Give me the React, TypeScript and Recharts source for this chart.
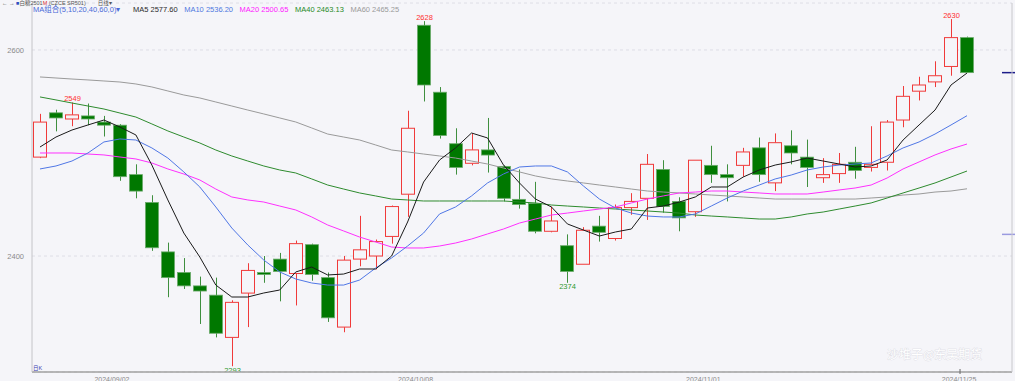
import React from "react";
import {
  ComposedChart,
  Bar,
  Line,
  XAxis,
  YAxis,
  CartesianGrid,
  ReferenceLine,
} from "recharts";

// trading days shown (daily K-line, SR501)
const dates = [
  "2024/08/27", "2024/08/28", "2024/08/29", "2024/08/30", "2024/09/02", "2024/09/03",
  "2024/09/04", "2024/09/05", "2024/09/06", "2024/09/09", "2024/09/10", "2024/09/11",
  "2024/09/12", "2024/09/13", "2024/09/18", "2024/09/19", "2024/09/20", "2024/09/23",
  "2024/09/24", "2024/09/25", "2024/09/26", "2024/09/27", "2024/09/30", "2024/10/08",
  "2024/10/09", "2024/10/10", "2024/10/11", "2024/10/14", "2024/10/15", "2024/10/16",
  "2024/10/17", "2024/10/18", "2024/10/21", "2024/10/22", "2024/10/23", "2024/10/24",
  "2024/10/25", "2024/10/28", "2024/10/29", "2024/10/30", "2024/10/31", "2024/11/01",
  "2024/11/04", "2024/11/05", "2024/11/06", "2024/11/07", "2024/11/08", "2024/11/11",
  "2024/11/12", "2024/11/13", "2024/11/14", "2024/11/15", "2024/11/18", "2024/11/19",
  "2024/11/20", "2024/11/21", "2024/11/22", "2024/11/25", "2024/11/26",
];

const opens = [
  2496, 2539, 2533, 2536, 2530, 2527, 2479, 2452, 2404, 2384, 2371, 2362, 2321, 2364, 2384,
  2397, 2383, 2411, 2379, 2331, 2397, 2400, 2419, 2460, 2624, 2559, 2509, 2490, 2503, 2487,
  2455, 2451, 2424, 2410, 2392, 2429, 2417, 2447, 2456, 2484, 2453, 2443, 2488, 2479, 2488,
  2505, 2471, 2507, 2496, 2476, 2480, 2491, 2486, 2491, 2532, 2560, 2569, 2584, 2612,
];
const highs = [
  2538, 2542, 2549, 2548, 2536, 2528, 2489, 2459, 2413, 2398, 2380, 2379, 2357, 2393, 2400,
  2403, 2415, 2412, 2384, 2400, 2439, 2416, 2449, 2541, 2628, 2564, 2524, 2519, 2534, 2488,
  2484, 2472, 2448, 2421, 2428, 2439, 2450, 2461, 2499, 2493, 2457, 2493, 2507, 2489, 2505,
  2515, 2519, 2522, 2513, 2495, 2500, 2506, 2526, 2532, 2565, 2574, 2589, 2630, 2613,
];
const lows = [
  2495, 2521, 2526, 2527, 2516, 2473, 2456, 2405, 2360, 2368, 2334, 2321, 2293, 2331, 2374,
  2356, 2352, 2376, 2336, 2326, 2390, 2387, 2412, 2438, 2550, 2514, 2479, 2488, 2481, 2453,
  2446, 2422, 2423, 2374, 2392, 2414, 2415, 2440, 2435, 2442, 2424, 2438, 2471, 2453, 2477,
  2472, 2463, 2489, 2467, 2471, 2471, 2475, 2482, 2483, 2525, 2551, 2564, 2575, 2578,
];
const closes = [
  2530, 2534, 2537, 2533, 2527, 2477, 2463, 2408, 2379, 2371, 2366, 2325, 2355, 2386, 2382,
  2385, 2412, 2382, 2340, 2396, 2406, 2414, 2448, 2524, 2566, 2517, 2486, 2503, 2498, 2456,
  2450, 2424, 2434, 2385, 2425, 2423, 2447, 2453, 2489, 2448, 2437, 2493, 2479, 2476, 2501,
  2479, 2510, 2500, 2486, 2479, 2489, 2483, 2489, 2530, 2555, 2566, 2575, 2612, 2578,
];

// moving averages
const ma5 = [
  2505.8, 2515.5, 2522.3, 2527.2, 2532.0, 2525.2, 2517.5, 2488.3, 2454.4, 2422.3, 2399.0,
  2371.8, 2360.2, 2360.2, 2364.1, 2367.0, 2384.5, 2389.3, 2381.6, 2382.5, 2387.4, 2387.4,
  2400.0, 2433.0, 2471.8, 2493.2, 2504.9, 2519.4, 2514.6, 2488.3, 2470.9, 2455.3, 2447.6,
  2431.1, 2425.2, 2419.4, 2423.3, 2426.2, 2446.6, 2448.5, 2452.4, 2457.3, 2467.0, 2467.0,
  2476.7, 2483.5, 2488.3, 2491.3, 2495.1, 2492.2, 2489.3, 2486.4, 2487.4, 2493.2, 2512.6,
  2527.2, 2541.7, 2566.0, 2577.6,
];
const ma10 = [
  2484.5, 2487.4, 2492.2, 2500.0, 2510.7, 2513.6, 2512.6, 2504.9, 2495.1, 2481.6, 2467.0,
  2447.6, 2427.2, 2410.7, 2396.1, 2384.5, 2377.7, 2373.8, 2371.8, 2371.8, 2376.7, 2388.3,
  2398.1, 2409.7, 2422.3, 2440.8, 2447.6, 2458.3, 2470.9, 2479.6, 2486.4, 2487.4, 2487.4,
  2481.6, 2468.0, 2455.3, 2446.6, 2441.7, 2438.8, 2437.9, 2437.9, 2440.8, 2448.5, 2456.3,
  2463.1, 2468.9, 2474.8, 2478.6, 2483.5, 2486.4, 2488.3, 2489.3, 2490.3, 2497.1, 2504.9,
  2510.7, 2518.4, 2527.2, 2536.2,
];
const ma20 = [
  2500.0, 2500.0, 2500.0, 2499.0, 2498.1, 2496.1, 2494.2, 2490.3, 2484.5, 2479.6, 2473.8,
  2465.0, 2457.3, 2454.4, 2452.4, 2448.5, 2444.7, 2437.9, 2430.1, 2424.3, 2418.4, 2413.6,
  2408.7, 2407.8, 2407.8, 2409.7, 2412.6, 2416.5, 2421.4, 2426.2, 2432.0, 2435.9, 2439.8,
  2441.7, 2443.7, 2445.6, 2447.6, 2451.5, 2455.3, 2458.3, 2461.2, 2462.1, 2463.1, 2463.1,
  2462.1, 2461.2, 2460.2, 2460.2, 2460.2, 2462.1, 2464.1, 2466.0, 2468.9, 2475.7, 2484.5,
  2491.3, 2498.1, 2503.9, 2508.7,
];
const ma40 = [
  2554.4, 2551.5, 2548.5, 2545.6, 2542.7, 2538.8, 2534.9, 2528.2, 2521.4, 2515.5, 2509.7,
  2502.9, 2497.1, 2492.2, 2487.4, 2483.5, 2480.6, 2474.8, 2468.9, 2465.0, 2461.2, 2458.3,
  2455.3, 2454.4, 2453.4, 2453.4, 2453.4, 2453.4, 2453.4, 2453.4, 2452.4, 2451.5, 2449.5,
  2448.5, 2447.6, 2446.6, 2445.6, 2444.7, 2443.7, 2442.7, 2441.7, 2439.8, 2438.8, 2437.9,
  2436.9, 2435.9, 2435.9, 2437.9, 2440.8, 2442.7, 2445.6, 2448.5, 2451.5, 2456.3, 2461.2,
  2466.0, 2470.9, 2476.7, 2482.5,
];
const ma60 = [
  2573.8, 2572.8, 2571.8, 2570.9, 2569.9, 2568.9, 2567.0, 2564.1, 2560.2, 2556.3, 2553.4,
  2549.5, 2545.6, 2541.7, 2537.9, 2534.0, 2530.1, 2524.3, 2518.4, 2515.5, 2512.6, 2507.8,
  2502.9, 2501.0, 2499.0, 2497.1, 2495.1, 2492.2, 2489.3, 2485.4, 2481.6, 2477.7, 2474.8,
  2472.8, 2470.9, 2468.9, 2467.0, 2465.0, 2463.1, 2462.1, 2461.2, 2460.2, 2459.2, 2458.3,
  2457.3, 2456.3, 2455.3, 2455.3, 2455.3, 2455.3, 2455.3, 2455.3, 2456.3, 2457.3, 2459.2,
  2460.2, 2462.1, 2463.1, 2465.25,
];

const yTicks = [2400, 2600];
const dateTicks = ["2024/09/02", "2024/10/08", "2024/11/01", "2024/11/25"];
const highMarks = [2, 24, 57];
const lowMarks = [12, 33];

const maLegend = [
  { name: "MA5", value: "2577.60", color: "#2a2a2a" },
  { name: "MA10", value: "2536.20", color: "#4f78e0" },
  { name: "MA20", value: "2500.65", color: "#ff20ff" },
  { name: "MA40", value: "2463.13", color: "#1f8a1f" },
  { name: "MA60", value: "2465.25", color: "#9a9a9a" },
];

const sideMarks = [
  { value: closes[closes.length - 1], color: "#1c1c8a" },
  { value: 2421, color: "#9a9ae0" },
];

const BG = "#f5f5f9";
const UP = "#f03a3a";
const DOWN = "#007800";
const FONT = "'Liberation Sans', 'Noto Sans CJK SC', sans-serif";

const rows = dates.map((date, i) => ({
  date,
  open: opens[i],
  high: highs[i],
  low: lows[i],
  close: closes[i],
  range: [lows[i], highs[i]],
  ma5: ma5[i],
  ma10: ma10[i],
  ma20: ma20[i],
  ma40: ma40[i],
  ma60: ma60[i],
  markHigh: highMarks.includes(i),
  markLow: lowMarks.includes(i),
}));

function Candle(props: any) {
  const { x, y, width, height, payload } = props;
  if (!payload || x == null) return null;
  const { open, close, high, low } = payload;
  const top = Math.min(y, y + height);
  const h = Math.abs(height);
  const py = (v: number) => top + ((high - v) / (high - low || 1)) * h;
  const cx = Math.round(x + width / 2) + 0.5;
  const up = close >= open;
  const bTop = py(Math.max(open, close));
  const bBot = py(Math.min(open, close));
  const bh = Math.max(bBot - bTop, 1);
  const left = Math.round(x) + 0.5;
  const w = Math.round(width) - 1;

  return (
    <g>
      {up ? (
        <g>
          <line x1={cx} x2={cx} y1={py(high)} y2={bTop} stroke={UP} strokeWidth={1} />
          <line x1={cx} x2={cx} y1={bTop + bh} y2={py(low)} stroke={UP} strokeWidth={1} />
          <rect x={left} y={bTop} width={w} height={bh} fill={BG} stroke={UP} strokeWidth={1} />
        </g>
      ) : (
        <g>
          <line x1={cx} x2={cx} y1={py(high)} y2={py(low)} stroke="#3f8f3f" strokeWidth={1} />
          <rect x={left} y={bTop} width={w} height={bh} fill={DOWN} stroke="#6aaa6a" strokeWidth={0.8} />
        </g>
      )}
      {payload.markHigh && (
        <text x={cx} y={py(high) - 1.5} textAnchor="middle" fontSize={7.5} fill="#ff3030" fontFamily={FONT}>
          {high}
        </text>
      )}
      {payload.markLow && (
        <text x={cx} y={py(low) + 6.5} textAnchor="middle" fontSize={7.5} fill="#2e9a2e" fontFamily={FONT}>
          {low}
        </text>
      )}
    </g>
  );
}

function DateTick(props: any) {
  const { x, y, payload } = props;
  const last = payload.value === dateTicks[dateTicks.length - 1];
  return (
    <g>
      {last && <line x1={x + 9} x2={x + 9} y1={y - 5} y2={y} stroke="#666" strokeWidth={1} />}
      <text x={x + 8} y={y + 7.5} textAnchor="middle" fontSize={7} fill="#8a8a8a" fontFamily={FONT}>
        {payload.value}
      </text>
    </g>
  );
}

function SideMark(color: string) {
  return (p: any) => (
    <line x1={p.x2 - 10} x2={p.x2 + 3} y1={p.y1} y2={p.y2} stroke={color} strokeWidth={1.5} />
  );
}

export default function App() {
  let lx = 133;
  const legendPos = maLegend.map((m) => {
    const pos = lx;
    lx += (m.name.length + m.value.length + 1) * 4.2 + 5;
    return pos;
  });

  return (
    <div
      style={{
        position: "fixed",
        left: 0,
        top: 0,
        width: 1015,
        height: 381,
        background: BG,
        overflow: "hidden",
      }}
    >
      <ComposedChart
        width={1015}
        height={381}
        data={rows}
        margin={{ top: 3, right: 0, left: 0, bottom: 0 }}
      >
        <CartesianGrid vertical={false} stroke="#dedee6" strokeDasharray="3 3" />
        <XAxis
          dataKey="date"
          ticks={dateTicks}
          interval={0}
          tick={<DateTick />}
          tickLine={false}
          tickSize={0}
          height={9}
          padding={{ left: 0, right: 37 }}
          axisLine={{ stroke: "#a0a0a0", strokeWidth: 1.5 }}
        />
        <YAxis
          domain={[2287.4, 2645.6]}
          ticks={yTicks}
          width={32}
          allowDataOverflow
          tickLine={false}
          tick={{ fontSize: 7.5, fill: "#8a8a8a", fontFamily: FONT }}
          axisLine={{ stroke: "#c4c4c8" }}
        />
        <YAxis
          yAxisId="r"
          orientation="right"
          width={3}
          tick={false}
          tickLine={false}
          axisLine={{ stroke: "#c8c8cc" }}
        />
        <Bar
          dataKey="range"
          barSize={14}
          shape={<Candle />}
          isAnimationActive={false}
        />
        <Line type="linear" dataKey="ma60" stroke="#9a9a9a" strokeWidth={1} dot={false} isAnimationActive={false} />
        <Line type="linear" dataKey="ma40" stroke="#2e8b2e" strokeWidth={1} dot={false} isAnimationActive={false} />
        <Line type="linear" dataKey="ma20" stroke="#ff30ff" strokeWidth={1} dot={false} isAnimationActive={false} />
        <Line type="linear" dataKey="ma10" stroke="#5077e6" strokeWidth={1} dot={false} isAnimationActive={false} />
        <Line type="linear" dataKey="ma5" stroke="#1a1a1a" strokeWidth={1} dot={false} isAnimationActive={false} />
        {sideMarks.map((m) => (
          <ReferenceLine
            key={m.value}
            y={m.value}
            ifOverflow="visible"
            shape={SideMark(m.color)}
          />
        ))}
      </ComposedChart>

      <svg
        width={1015}
        height={381}
        style={{ position: "absolute", left: 0, top: 0, pointerEvents: "none" }}
        fontFamily={FONT}
      >
        <text x={2} y={5} fontSize={5.5} fill="#555">
          ← →  <tspan fill="#3050c0">■</tspan>白糖2501<tspan fill="#e03030">M</tspan> (CZCE SR501)
          <tspan dx={12}>日线▾</tspan>
        </text>
        <text x={33} y={12} fontSize={7.5} fill="#4a6ad8">
          MA组合(5,10,20,40,60,0)▾
        </text>
        {maLegend.map((m, i) => (
          <text key={m.name} x={legendPos[i]} y={12} fontSize={7.5} fill={m.color}>
            {m.name} {m.value}
          </text>
        ))}
        <text x={33} y={370} fontSize={5.5} fill="#3a3ab0">
          日K
        </text>
        <text
          x={887}
          y={359}
          fontSize={12}
          fill="#ffffff"
          stroke="#d4d4dc"
          strokeWidth={0.6}
          paintOrder="stroke"
          fontFamily="'Noto Sans CJK SC', sans-serif"
        >
          沙堆子@东吴期货
        </text>
      </svg>
    </div>
  );
}
